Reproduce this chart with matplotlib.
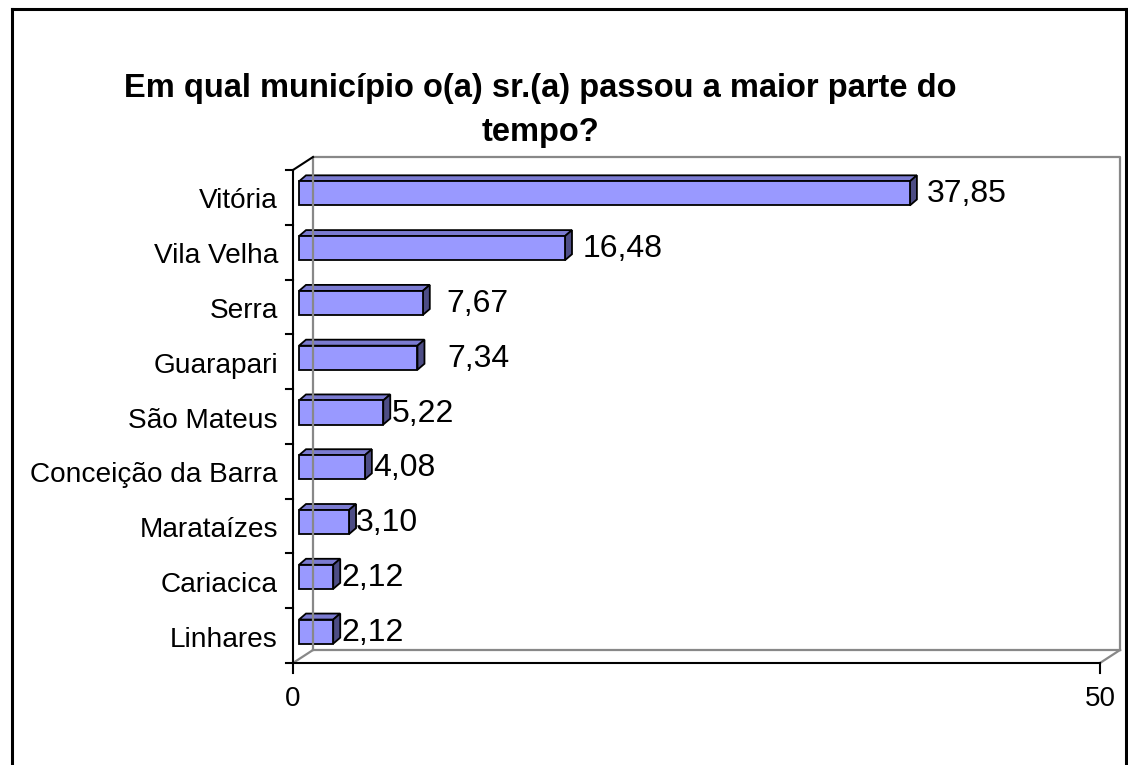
import matplotlib
matplotlib.use('Agg')
import matplotlib.pyplot as plt
from matplotlib.patches import Polygon, Rectangle
from matplotlib.lines import Line2D

plt.rcParams['font.family'] = ['Liberation Sans', 'DejaVu Sans']

# data
municipios = ['Vitória', 'Vila Velha', 'Serra', 'Guarapari', 'São Mateus',
              'Conceição da Barra', 'Marataízes', 'Cariacica', 'Linhares']
percentuais = [37.85, 16.48, 7.67, 7.34, 5.22, 4.08, 3.10, 2.12, 2.12]
x_ticks = [0, 50]
titulo = ['Em qual município o(a) sr.(a) passou a maior parte do', 'tempo?']

# label nudges (pixels after the bar end)
label_pad = [17, 18, 24, 30, 8, 8, 7, 8, 8]

W, H, DPI = 1128, 765, 100
fig = plt.figure(figsize=(W / DPI, H / DPI), dpi=DPI)

# front plane of the 3d box, in pixels
left, right, top, bottom = 293, 1100, 170, 663
ax = fig.add_axes([left / W, 1 - bottom / H, (right - left) / W, (bottom - top) / H])
n = len(municipios)
xmin, xmax = 0, 50
ymin, ymax = -0.5, n - 0.5
ax.set_xlim(xmin, xmax)
ax.set_ylim(ymin, ymax)
ax.axis('off')

ppx = (xmax - xmin) / (right - left)   # data units per pixel
ppy = (ymax - ymin) / (bottom - top)

# depth of the walls
wdx, wdy = 20 * ppx, 13 * ppy
gray = '#888888'
kw = dict(clip_on=False)

# back wall and floor
ax.plot([xmin + wdx, xmin + wdx, xmax + wdx, xmax + wdx],
        [ymin + wdy, ymax + wdy, ymax + wdy, ymin + wdy], color=gray, lw=1.6, **kw)
ax.plot([xmin, xmin + wdx], [ymin, ymin + wdy], color=gray, lw=1.6, **kw)
ax.plot([xmax, xmax + wdx], [ymin, ymin + wdy], color=gray, lw=1.6, **kw)
ax.plot([xmin + wdx, xmax + wdx], [ymin + wdy, ymin + wdy], color=gray, lw=1.6, **kw)

# front axes
ax.plot([xmin, xmin], [ymin, ymax], color='black', lw=1.5, **kw)
ax.plot([xmin, xmin + wdx], [ymax, ymax + wdy], color='black', lw=1.5, **kw)
ax.plot([xmin, xmax], [ymin, ymin], color='black', lw=1.5, **kw)
for k in range(n + 1):
    ax.plot([xmin - 7 * ppx, xmin], [ymin + k, ymin + k], color='black', lw=1.5, **kw)
for t in x_ticks:
    ax.plot([t, t], [ymin, ymin - 10 * ppy], color='black', lw=1.5, **kw)
    ax.text(t, ymin - 23 * ppy, str(t), ha='center', va='top', fontsize=20, **kw)

# bars
fdx, fdy = 6 * ppx, 4 * ppy     # offset of bar front face
bdx, bdy = 7 * ppx, 6 * ppy     # bar depth
bh = 0.44
face, topc, side = '#9999FF', '#7B7BD1', '#4D4D85'
for i, (nome, v) in enumerate(zip(municipios, percentuais)):
    yc = n - 1 - i
    x0, x1 = xmin + fdx, v + fdx
    y0, y1 = yc - bh / 2 + fdy, yc + bh / 2 + fdy
    ax.add_patch(Polygon([(x0, y1), (x1, y1), (x1 + bdx, y1 + bdy), (x0 + bdx, y1 + bdy)],
                         closed=True, fc=topc, ec='black', lw=1.3, joinstyle='miter', **kw))
    ax.add_patch(Polygon([(x1, y0), (x1, y1), (x1 + bdx, y1 + bdy), (x1 + bdx, y0 + bdy)],
                         closed=True, fc=side, ec='black', lw=1.3, joinstyle='miter', **kw))
    ax.add_patch(Rectangle((x0, y0), v, y1 - y0, fc=face, ec='black', lw=1.3,
                           joinstyle='miter', **kw))
    ax.text(x1 + label_pad[i] * ppx, yc + 3 * ppy, f'{v:.2f}'.replace('.', ','),
            ha='left', va='center', fontsize=23, **kw)
    ax.text(xmin - 15 * ppx, yc - 4 * ppy, nome, ha='right', va='center', fontsize=20.2, **kw)

# title, two lines
for linha, yp in zip(titulo, [88, 133]):
    fig.text(540 / W, 1 - yp / H, linha, ha='center', va='center', fontsize=23.5,
             fontweight='bold')

# outer chart border
for xs, ys in [([12, 12], [9, 770]), ([12, 1126], [9, 9]), ([1126, 1126], [9, 770])]:
    fig.add_artist(Line2D([x / W for x in xs], [1 - y / H for y in ys],
                          color='black', lw=2.2, transform=fig.transFigure))

fig.savefig('out.png', dpi=DPI)
